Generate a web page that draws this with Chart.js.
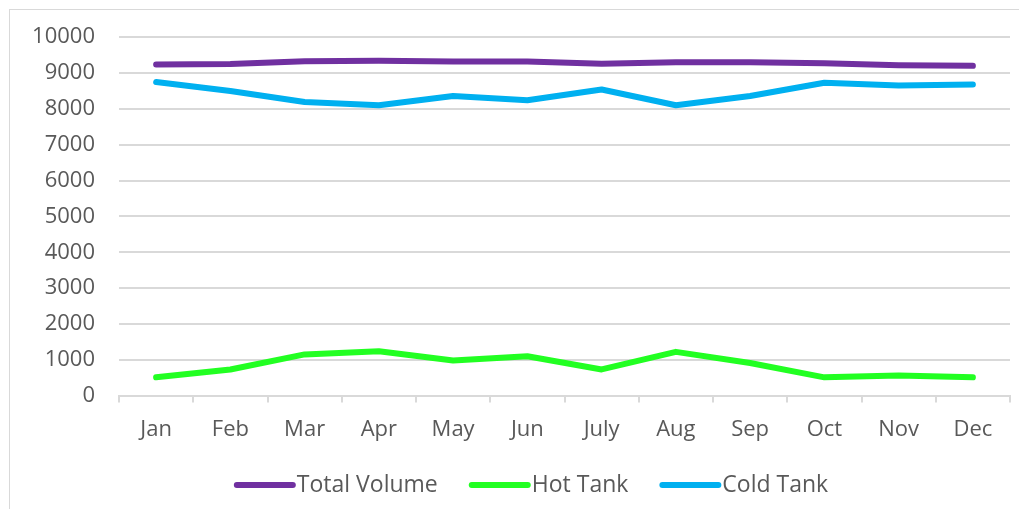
<!DOCTYPE html>
<html>
<head>
<meta charset="utf-8">
<script src="https://cdn.jsdelivr.net/npm/chart.js@4/dist/chart.umd.min.js"></script>
<style>
  html, body { margin: 0; padding: 0; background: #fff; }
  #wrap { position: relative; width: 1019px; height: 509px; overflow: hidden; }
  #frame { position: absolute; left: 9px; top: 9px; width: 1100px; height: 600px; border-top: 1px solid #d9d9d9; border-left: 1px solid #d9d9d9; }
  #c { position: absolute; left: 0; top: 0; }
</style>
</head>
<body>
<div id="wrap">
  <div id="frame"></div>
  <canvas id="c" width="1019" height="509"></canvas>
</div>
<script>
const categories = ['Jan','Feb','Mar','Apr','May','Jun','July','Aug','Sep','Oct','Nov','Dec'];
const totalVolume = [9240, 9250, 9330, 9340, 9320, 9320, 9260, 9300, 9300, 9270, 9220, 9200];
const hotTank = [510, 730, 1150, 1240, 980, 1100, 730, 1220, 910, 510, 560, 510];
const coldTank = [8750, 8500, 8190, 8100, 8360, 8240, 8540, 8100, 8360, 8730, 8650, 8680];
const yTicks = [0, 1000, 2000, 3000, 4000, 5000, 6000, 7000, 8000, 9000, 10000];

const FONT = '"Open Sans", "Noto Sans", sans-serif';
const FSIZE = 22;
const LEGEND_FSIZE = 23;
const TXT = '#595959';
const GRID = '#d9d9d9';

function ds(label, data, color) {
  return {
    label, data,
    borderColor: color, backgroundColor: color,
    borderWidth: 6, borderCapStyle: 'round', borderJoinStyle: 'round',
    pointRadius: 0, pointHoverRadius: 0, tension: 0, fill: false
  };
}

// Office-style legend: long line sample with text right after it
const officeLegend = {
  id: 'officeLegend',
  afterDraw(chart) {
    const ctx = chart.ctx;
    const lineLen = 62, gapText = 1, gapItem = 31, y = 485, centerX = 531;
    ctx.save();
    ctx.font = LEGEND_FSIZE + 'px ' + FONT;
    ctx.textBaseline = 'middle';
    ctx.textAlign = 'left';
    const items = chart.data.datasets.map(d => ({ d, w: ctx.measureText(d.label).width }));
    const total = items.reduce((s, it) => s + lineLen + gapText + it.w, 0) + gapItem * (items.length - 1);
    let x = centerX - total / 2;
    items.forEach(it => {
      ctx.strokeStyle = it.d.borderColor;
      ctx.lineWidth = 6;
      ctx.lineCap = 'round';
      ctx.beginPath();
      ctx.moveTo(x + 3, y);
      ctx.lineTo(x + lineLen - 3, y);
      ctx.stroke();
      ctx.fillStyle = TXT;
      ctx.fillText(it.d.label, x + lineLen + gapText, y);
      x += lineLen + gapText + it.w + gapItem;
    });
    ctx.restore();
  }
};

new Chart(document.getElementById('c'), {
  type: 'line',
  data: {
    labels: categories,
    datasets: [
      ds('Total Volume', totalVolume, '#7030A0'),
      ds('Hot Tank', hotTank, '#22FF22'),
      ds('Cold Tank', coldTank, '#00B0F0')
    ]
  },
  plugins: [officeLegend],
  options: {
    responsive: false,
    animation: false,
    devicePixelRatio: 1,
    layout: { padding: { left: 0, right: 9, top: 26, bottom: 52 } },
    plugins: {
      tooltip: { enabled: false },
      legend: { display: false }
    },
    scales: {
      x: {
        offset: true,
        grid: { offset: true, drawOnChartArea: false, drawTicks: true, tickLength: 7, color: GRID, lineWidth: 2 },
        border: { display: true, color: GRID, width: 2 },
        ticks: { color: TXT, font: { family: FONT, size: FSIZE }, padding: 14, maxRotation: 0 }
      },
      y: {
        min: 0, max: 10000,
        afterFit: (s) => { s.width = 119; },
        afterBuildTicks: (s) => { s.ticks = yTicks.map(v => ({ value: v })); },
        grid: { drawTicks: false, color: GRID, lineWidth: 2 },
        border: { display: false },
        ticks: { color: TXT, font: { family: FONT, size: FSIZE }, padding: 24, callback: (v) => String(v) }
      }
    }
  }
});
</script>
</body>
</html>
